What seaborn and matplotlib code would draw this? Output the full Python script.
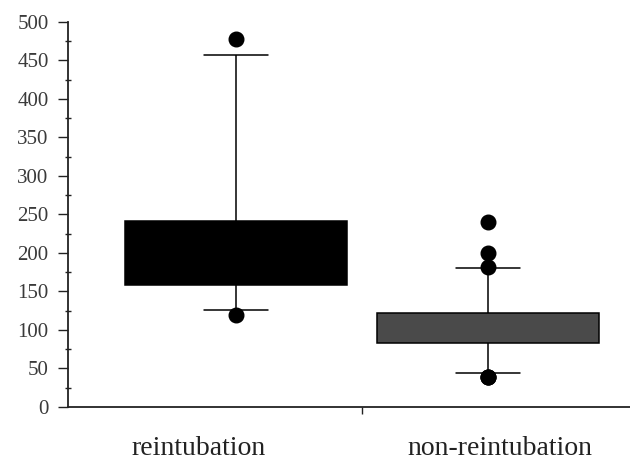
import numpy as np
import pandas as pd
import matplotlib
matplotlib.use("Agg")
import matplotlib.pyplot as plt
import matplotlib.transforms as mtransforms
from matplotlib.ticker import MultipleLocator, FixedLocator
import seaborn as sns

# values (whiskers at 10th/90th percentile, dots beyond)
groups = ["reintubation", "non-reintubation"]
reintubation = [119, 126, 155, 167, 190, 210, 236, 244, 457, 478]
non_reintubation = [39, 39, 39, 44, 52, 63, 74, 82, 86, 89,
                    92, 95, 97, 100, 102, 104, 107, 110, 112, 115,
                    117, 119, 123, 135, 150, 166, 181, 182, 200, 240]
box_colors = ["#000000", "#4a4a4a"]
y_ticks = list(range(0, 501, 50))

df = pd.DataFrame({
    "group": [groups[0]] * len(reintubation) + [groups[1]] * len(non_reintubation),
    "value": reintubation + non_reintubation,
})

sns.set_style("white")
plt.rcParams["font.family"] = ["Liberation Serif", "DejaVu Serif"]

fig = plt.figure(figsize=(6.3, 4.62), dpi=100)
ax = fig.add_axes([0.108, 0.119, 0.892, 0.834])

sns.boxplot(data=df, x="group", y="value", hue="group", order=groups,
            palette=box_colors, legend=False, ax=ax,
            whis=(10, 90), width=0.88, linecolor="black", linewidth=1.1,
            capwidths=0.254,
            medianprops=dict(linewidth=0),
            flierprops=dict(marker="o", markerfacecolor="black",
                            markeredgecolor="black", markersize=10.5))

ax.set_xlim(-0.667, 1.563)
ax.set_ylim(0, 500)
ax.set_xlabel("")
ax.set_ylabel("")

sns.despine(ax=ax)
for s in ["left", "bottom"]:
    ax.spines[s].set_color("#222222")
    ax.spines[s].set_linewidth(1.3)

ax.set_yticks(y_ticks)
ax.yaxis.set_minor_locator(MultipleLocator(25))
ax.tick_params(axis="y", which="major", direction="out", length=7, width=1,
               color="#222222", labelsize=15, labelcolor="#3a3a3a", pad=7, left=True)
ax.tick_params(axis="y", which="minor", direction="inout", length=4, width=1,
               color="#222222", left=True)

ax.set_xticks([0, 1])
ax.set_xticklabels(groups)
ax.xaxis.set_minor_locator(FixedLocator([0.5]))
ax.tick_params(axis="x", which="major", length=0, labelsize=20,
               labelcolor="#222222", pad=21)
ax.tick_params(axis="x", which="minor", direction="out", length=5, width=1,
               color="#222222", bottom=True)

shifts = [-0.38, 0.12]
for lab, dx in zip(ax.get_xticklabels(), shifts):
    lab.set_transform(lab.get_transform() +
                      mtransforms.ScaledTranslation(dx, 0, fig.dpi_scale_trans))

fig.savefig("out.png", dpi=100)
